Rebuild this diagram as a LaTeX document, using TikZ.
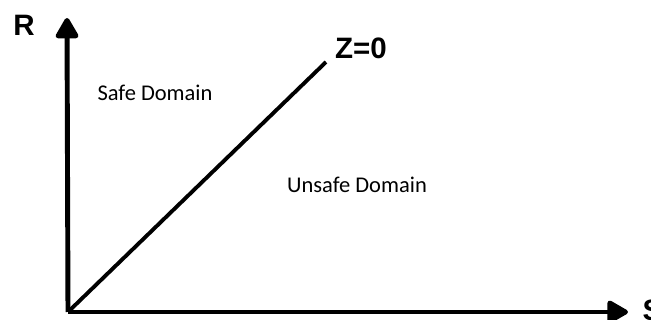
\documentclass[tikz,border=0pt]{standalone}
\usepackage{fontspec}
\setmainfont{Carlito}
\newfontfamily\axisfont{Liberation Sans}
\usetikzlibrary{arrows.meta}

\begin{document}
\begin{tikzpicture}[>={Triangle[length=2.3mm,width=2.5mm,round]}]
        \useasboundingbox (0,0) rectangle (6.51,3.20);
        \tikzset{axislabel/.style={font=\axisfont\bfseries\fontsize{8.4}{10}\selectfont, inner sep=0pt},
                 domainlabel/.style={font=\fontsize{6.4}{8}\selectfont, inner sep=0pt}}

        % Axes
        \coordinate (O) at (0.68,0.08);
        \coordinate (Rtip) at (0.67,3.02);
        \coordinate (Stip) at (6.28,0.08);
        \draw[->, line width=1.4pt] (O) -- (Rtip);
        \draw[->, line width=1.3pt] (O) -- (Stip);
        \node[axislabel] (R) at (0.24,2.95) {R};
        \node[axislabel, anchor=west] (S) at (6.42,0.10) {S};

        % Limit line
        \coordinate (Zend) at (3.26,2.58);
        \draw[line width=1.1pt] (O) -- (Zend);
        \node[axislabel] (Z) at (3.61,2.72) {Z=0};

        % Domains
        \node[domainlabel] (safe) at (1.55,2.27) {Safe Domain};
        \node[domainlabel] (unsafe) at (3.57,1.35) {Unsafe Domain};
\end{tikzpicture}
\end{document}
